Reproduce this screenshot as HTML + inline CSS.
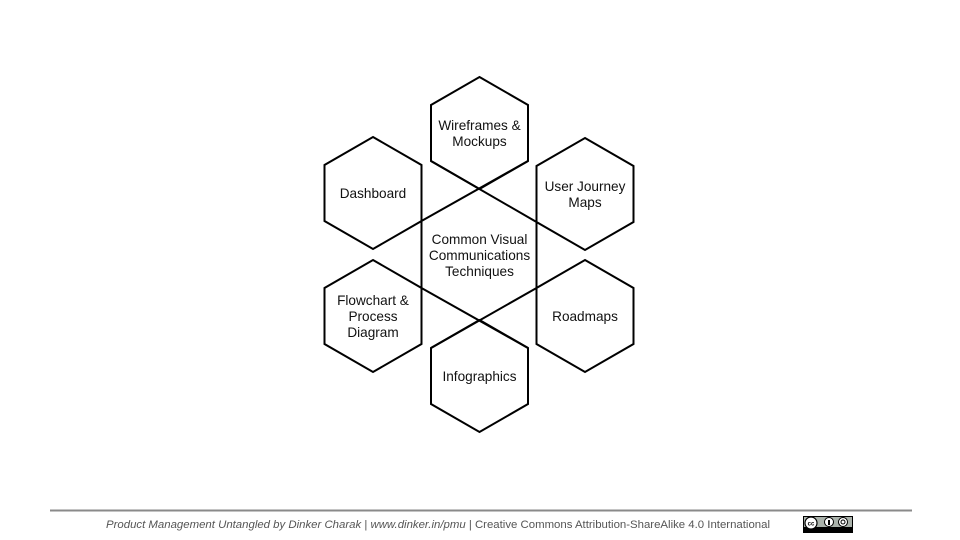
<!DOCTYPE html>
<html><head><meta charset="utf-8"><style>
html,body{margin:0;padding:0;background:#fff;}
body{width:960px;height:540px;position:relative;overflow:hidden;font-family:"Liberation Sans",sans-serif;}
svg{position:absolute;left:0;top:0;}
</style></head><body>
<svg width="960" height="540" viewBox="0 0 960 540">
<g fill="none" stroke="#000" stroke-width="2" stroke-linejoin="miter">
<polygon points="479.5,77 528,105 528,161 479.5,189 431,161 431,105"/>
<polygon points="585,138 633.5,166 633.5,222 585,250 536.5,222 536.5,166"/>
<polygon points="373,137 421.5,165 421.5,221 373,249 324.5,221 324.5,165"/>
<polygon points="585,260 633.5,288 633.5,344 585,372 536.5,344 536.5,288"/>
<polygon points="373,260 421.5,288 421.5,344 373,372 324.5,344 324.5,288"/>
<polygon points="479.5,320 528,348 528,404 479.5,432 431,404 431,348"/>
<line x1="421.5" y1="165" x2="421.5" y2="344"/>
<line x1="536.5" y1="166" x2="536.5" y2="344"/>
<line x1="421.5" y1="221" x2="528" y2="161"/>
<line x1="431" y1="161" x2="536.5" y2="222"/>
<line x1="421.5" y1="288" x2="528" y2="348"/>
<line x1="536.5" y1="288" x2="431" y2="348"/>
</g>
<g font-family="Liberation Sans, sans-serif" font-size="13.6" fill="#111" text-anchor="middle">
<text x="479.5" y="130">Wireframes &amp;</text>
<text x="479.5" y="146">Mockups</text>
<text x="585" y="191">User Journey</text>
<text x="585" y="207">Maps</text>
<text x="373" y="198">Dashboard</text>
<text x="479.5" y="244">Common Visual</text>
<text x="479.5" y="260">Communications</text>
<text x="479.5" y="276">Techniques</text>
<text x="373" y="305">Flowchart &amp;</text>
<text x="373" y="321">Process</text>
<text x="373" y="337">Diagram</text>
<text x="585" y="321">Roadmaps</text>
<text x="479.5" y="381">Infographics</text>
</g>
<line x1="50" y1="510.5" x2="912" y2="510.5" stroke="#8a8a8a" stroke-width="2"/>
<text x="438" y="528" font-family="Liberation Sans, sans-serif" font-size="11.4" fill="#555" text-anchor="middle"><tspan font-style="italic">Product Management Untangled by Dinker Charak</tspan> | <tspan font-style="italic">www.dinker.in/pmu</tspan> | Creative Commons Attribution-ShareAlike 4.0 International</text>
<g>
<rect x="803" y="516" width="50" height="17" fill="#000"/>
<rect x="804" y="517" width="48" height="10" fill="#aab2ab"/>
<circle cx="811" cy="523" r="6" fill="#fff" stroke="#000" stroke-width="1.2"/>
<text x="811" y="525.5" font-size="6" font-weight="bold" text-anchor="middle" font-family="Liberation Sans, sans-serif">cc</text>
<circle cx="829" cy="522" r="4.5" fill="#fff" stroke="#000" stroke-width="1"/>
<circle cx="843" cy="522" r="4.5" fill="#fff" stroke="#000" stroke-width="1"/>
<rect x="828" y="520" width="2" height="5" fill="#000"/>
<circle cx="843" cy="522" r="2" fill="none" stroke="#000" stroke-width="1"/>
</g>
</svg>
</body></html>
